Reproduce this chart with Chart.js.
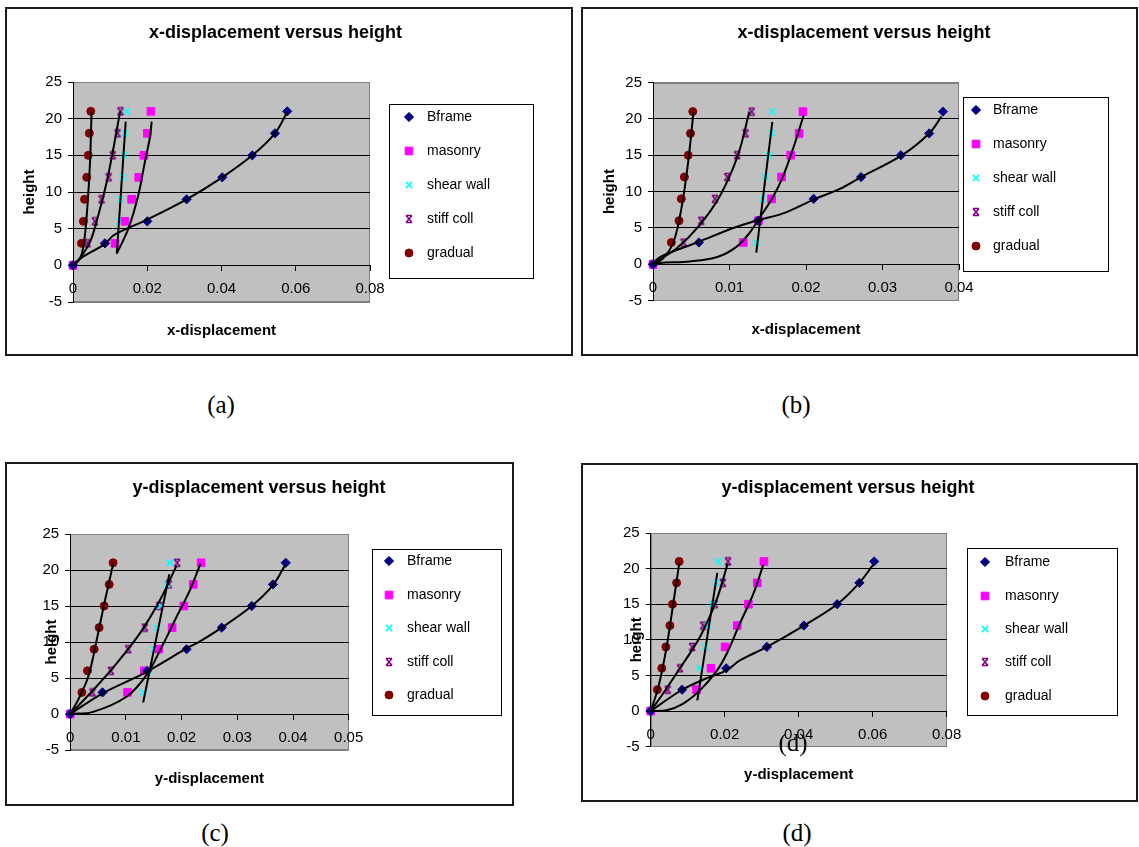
<!DOCTYPE html>
<html><head><meta charset="utf-8">
<script src="https://cdn.jsdelivr.net/npm/chart.js@4.4.1/dist/chart.umd.min.js"></script>
<style>
html,body{margin:0;padding:0;background:#fff;width:1139px;height:847px;overflow:hidden;position:relative;font-family:"Liberation Sans",Arial,sans-serif;}
.frame{position:absolute;box-sizing:border-box;border:2px solid #1a1a1a;background:#fff;}
.frame canvas{position:absolute;left:0;top:0;}
.cap{position:absolute;font-family:"Liberation Serif","Times New Roman",serif;font-size:25px;transform:translate(-50%,-50%);white-space:nowrap;color:#000;}
</style></head><body>
<div id="fa" class="frame"><canvas id="ca"></canvas></div>
<div id="fb" class="frame"><canvas id="cb"></canvas></div>
<div id="fc" class="frame"><canvas id="cc"></canvas></div>
<div id="fd" class="frame"><canvas id="cd"></canvas></div>
<div class="cap" style="left:221px;top:405px">(a)</div>
<div class="cap" style="left:796px;top:405px">(b)</div>
<div class="cap" style="left:215px;top:833px">(c)</div>
<div class="cap" style="left:797px;top:833px">(d)</div>
<div class="cap" style="left:793px;top:743px">(d)</div>
<script>
// ---------- data ----------
const heights = [0, 3, 6, 9, 12, 15, 18, 21];
const seriesNames = ['Bframe', 'masonry', 'shear wall', 'stiff coll', 'gradual'];
const yTickValues = [-5, 0, 5, 10, 15, 20, 25];
const yTickLabels = ['-5', '0', '5', '10', '15', '20', '25'];

// (a) x-displacement
const aXTickValues = [0, 0.02, 0.04, 0.06, 0.08];
const aXTickLabels = ['0', '0.02', '0.04', '0.06', '0.08'];
const aBframe  = [0, 0.0086, 0.0200, 0.0306, 0.0402, 0.0483, 0.0544, 0.0577];
const aMasonry = [0, 0.0113, 0.0140, 0.0158, 0.0177, 0.0191, 0.0200, 0.0210];
const aShear   = [0, 0.0118, 0.0124, 0.0128, 0.0134, 0.0138, 0.0140, 0.0145];
const aStiff   = [0, 0.0039, 0.0059, 0.0077, 0.0096, 0.0107, 0.0120, 0.0128];
const aGradual = [0, 0.0023, 0.0028, 0.0031, 0.0037, 0.0041, 0.0044, 0.0048];
const aBframeTrend  = [[0,0],[0.0019,0.9],[0.0088,3.0],[0.0109,4.1],[0.0198,6.2],[0.0306,9.0],[0.0402,12],[0.0483,15],[0.0544,18],[0.0576,20.8]];
const aMasonryTrend = [[0.0118,1.6],[0.0149,5.0],[0.0176,9.6],[0.0194,14.2],[0.0207,17.4],[0.0212,19.6]];
const aShearTrend   = [[0.0118,1.6],[0.0142,19.6]];
const aStiffTrend   = [[0,0],[0.0019,1.0],[0.0046,3.2],[0.0068,6.8],[0.0091,11.4],[0.0109,16],[0.0127,21]];
const aGradualTrend = [[0,0],[0.0019,0.9],[0.0030,3.2],[0.0039,8.2],[0.0046,14.2],[0.0050,21]];

// (b) x-displacement
const bXTickValues = [0, 0.01, 0.02, 0.03, 0.04];
const bXTickLabels = ['0', '0.01', '0.02', '0.03', '0.04'];
const bBframe  = [0, 0.0060, 0.0137, 0.0210, 0.0272, 0.0324, 0.0361, 0.0379];
const bMasonry = [0, 0.0118, 0.0138, 0.0155, 0.0168, 0.0180, 0.0191, 0.0196];
const bShear   = [0, 0.0135, 0.0139, 0.0143, 0.0147, 0.0152, 0.0155, 0.0156];
const bStiff   = [0, 0.0040, 0.0063, 0.0081, 0.0097, 0.0110, 0.0121, 0.0129];
const bGradual = [0, 0.0024, 0.0034, 0.0037, 0.0041, 0.0046, 0.0049, 0.0052];
const bBframeTrend  = [[0,0],[0.0009,1.0],[0.0060,3.1],[0.0105,5.0],[0.0138,6.1],[0.0170,7.0],[0.0210,8.9],[0.0245,10.4],[0.0272,12.0],[0.0324,14.9],[0.0361,18.0],[0.0377,20.3]];
const bMasonryTrend = [[0,0],[0.0009,0.2],[0.0048,0.4],[0.0084,1.0],[0.0109,2.4],[0.0126,4.3],[0.0140,6.5],[0.0157,9.3],[0.0170,12.1],[0.0184,16.2],[0.0197,20.5]];
const bShearTrend   = [[0.0135,1.6],[0.0156,19.6]];
const bStiffTrend   = [[0,0],[0.0005,0.4],[0.0031,2.2],[0.0061,5.4],[0.0088,9.5],[0.0111,15.0],[0.0126,21]];
const bGradualTrend = [[0,0],[0.0013,0.8],[0.0027,3.1],[0.0038,8.2],[0.0046,14.1],[0.0053,21.0]];

// (c) y-displacement
const cXTickValues = [0, 0.01, 0.02, 0.03, 0.04, 0.05];
const cXTickLabels = ['0', '0.01', '0.02', '0.03', '0.04', '0.05'];
const cBframe  = [0, 0.0058, 0.0138, 0.0209, 0.0272, 0.0326, 0.0364, 0.0387];
const cMasonry = [0, 0.0103, 0.0133, 0.0159, 0.0183, 0.0204, 0.0221, 0.0235];
const cShear   = [0, 0.0131, 0.0140, 0.0150, 0.0156, 0.0162, 0.0174, 0.0179];
const cStiff   = [0, 0.0040, 0.0073, 0.0104, 0.0134, 0.0160, 0.0177, 0.0192];
const cGradual = [0, 0.0021, 0.0031, 0.0043, 0.0052, 0.0061, 0.0070, 0.0077];
const cBframeTrend  = [[0,0],[0.0059,2.9],[0.0131,5.6],[0.0209,9.1],[0.0233,10.1],[0.0272,12],[0.0326,15],[0.0364,17.9],[0.0386,20.7]];
const cMasonryTrend = [[0,0],[0.0041,0.3],[0.0101,2.4],[0.0137,5.4],[0.0161,8.8],[0.0191,13.5],[0.0215,17.2],[0.0234,20.9]];
const cShearTrend   = [[0.0131,1.6],[0.0178,19.4]];
const cStiffTrend   = [[0,0],[0.0041,3.3],[0.0083,7.0],[0.0125,11.2],[0.0161,15.8],[0.0191,20.6]];
const cGradualTrend = [[0,0],[0.00145,2.0],[0.00325,5.2],[0.00476,10.3],[0.00625,15.8],[0.00774,20.9]];

// (d) y-displacement
const dXTickValues = [0, 0.02, 0.04, 0.06, 0.08];
const dXTickLabels = ['0', '0.02', '0.04', '0.06', '0.08'];
const dBframe  = [0, 0.0085, 0.0204, 0.0314, 0.0414, 0.0504, 0.0564, 0.0604];
const dMasonry = [0, 0.0124, 0.0163, 0.0201, 0.0234, 0.0264, 0.0288, 0.0306];
const dShear   = [0, 0.0126, 0.0133, 0.0148, 0.0154, 0.0166, 0.0177, 0.0182];
const dStiff   = [0, 0.0046, 0.0079, 0.0112, 0.0142, 0.0173, 0.0195, 0.0209];
const dGradual = [0, 0.0018, 0.0030, 0.0041, 0.0052, 0.0059, 0.0070, 0.0077];
const dBframeTrend  = [[0,0],[0.0084,2.95],[0.0151,4.6],[0.0205,5.7],[0.0241,7.1],[0.0314,9],[0.0414,12],[0.0504,15],[0.0564,18],[0.0602,20.6]];
const dMasonryTrend = [[0,0],[0.0043,0.1],[0.0088,1.05],[0.0133,2.9],[0.0178,5.6],[0.0205,8.0],[0.0241,12.3],[0.0277,16.4],[0.0304,20.5]];
const dShearTrend   = [[0.0126,1.5],[0.0180,19.4]];
const dStiffTrend   = [[0,0],[0.0034,2.5],[0.0079,6.0],[0.0133,10.4],[0.0178,15.6],[0.0208,20.7]];
const dGradualTrend = [[0,0],[0.0021,3.4],[0.0043,9.0],[0.0061,15.1],[0.0077,20.7]];

// ---------- styling ----------
const FONT = '"Liberation Sans", Arial, sans-serif';
Chart.defaults.font.family = FONT;
Chart.defaults.color = '#000';

function makeStiffMarker() {
  const c = document.createElement('canvas');
  c.width = 10; c.height = 10;
  const g = c.getContext('2d');
  g.strokeStyle = '#800080'; g.lineWidth = 1.5;
  g.beginPath();
  g.moveTo(2, 1.5); g.lineTo(8, 8.5);
  g.moveTo(8, 1.5); g.lineTo(2, 8.5);
  g.moveTo(2, 1.5); g.lineTo(8, 1.5);
  g.moveTo(2, 8.5); g.lineTo(8, 8.5);
  g.stroke();
  return c;
}
const stiffMarker = makeStiffMarker();
const markerStyles = [
  {pointStyle: 'rectRot', color: '#000080', radius: 4.6, bw: 1},
  {pointStyle: 'rect', color: '#FF00FF', radius: 5.4, bw: 1},
  {pointStyle: 'crossRot', color: '#00FFFF', radius: 4.4, bw: 1.6},
  {pointStyle: stiffMarker, color: '#800080', radius: 4.5, bw: 1},
  {pointStyle: 'circle', color: '#800000', radius: 4, bw: 1}
];

const plotBg = {
  id: 'plotBg',
  beforeDraw(chart) {
    const {ctx, chartArea: a} = chart;
    ctx.save();
    ctx.fillStyle = '#C0C0C0';
    ctx.fillRect(a.left, a.top, a.right - a.left, a.bottom - a.top);
    ctx.strokeStyle = '#808080'; ctx.lineWidth = 1;
    ctx.strokeRect(Math.round(a.left) + 0.5, Math.round(a.top) + 0.5, Math.round(a.right - a.left) - 1, Math.round(a.bottom - a.top) - 1);
    ctx.restore();
  }
};

const deco = {
  id: 'deco',
  afterDraw(chart, args, o) {
    const ctx = chart.ctx;
    ctx.save();
    ctx.fillStyle = '#000';
    ctx.font = 'bold 18px ' + FONT;
    ctx.textAlign = 'center'; ctx.textBaseline = 'middle';
    ctx.fillText(o.title, o.titleX, o.titleY);
    const [bx, by, bw, bh] = o.box;
    ctx.fillStyle = '#fff'; ctx.fillRect(bx, by, bw, bh);
    ctx.strokeStyle = '#000'; ctx.lineWidth = 1;
    ctx.strokeRect(Math.round(bx) + 0.5, Math.round(by) + 0.5, Math.round(bw) - 1, Math.round(bh) - 1);
    ctx.font = '14px ' + FONT; ctx.textAlign = 'left';
    const pts = chart.data.datasets.filter(d => !d.isTrend);
    pts.forEach((d, i) => {
      const y = o.rows[i];
      ctx.fillStyle = d.pointBackgroundColor; ctx.strokeStyle = d.pointBorderColor; ctx.lineWidth = d.pointBorderWidth;
      if (Chart.helpers && Chart.helpers.drawPoint) {
        Chart.helpers.drawPoint(ctx, {pointStyle: d.pointStyle, radius: d.pointRadius, borderWidth: d.pointBorderWidth, rotation: 0}, o.markerX, y);
      }
      ctx.fillStyle = '#000';
      ctx.fillText(d.label, o.textX, y);
    });
    ctx.restore();
  }
};

function toPts(xs) { return heights.map((h, i) => ({x: xs[i], y: h})); }
function toLine(arr) { return arr.map(p => ({x: p[0], y: p[1]})); }

function buildChart(id, spec, xsList, trendList, xMax, xTickValues, xTickLabels) {
  const cv = document.getElementById(id);
  const fr = cv.parentElement;
  const [fx0, fy0, fw, fh] = spec.frame;
  fr.style.left = fx0 + 'px'; fr.style.top = fy0 + 'px';
  fr.style.width = fw + 'px'; fr.style.height = fh + 'px';
  const cx = fx0 + 2, cy = fy0 + 2, cw = fw - 4, ch = fh - 4;
  cv.width = cw; cv.height = ch; cv.style.width = cw + 'px'; cv.style.height = ch + 'px';
  const [L, T, R, B] = spec.area;
  const lx = L - cx, rx = R - cx, ty = T - cy, by = B - cy;
  const pix0 = ty + (by - ty) * 25 / 30;
  const tickLen = 5, xTickPad = 10;
  const datasets = [];
  trendList.forEach(tr => datasets.push({
    isTrend: true, label: 'trend', data: toLine(tr), showLine: true,
    borderColor: '#000', borderWidth: 2, pointRadius: 0, tension: 0.35, order: 0, clip: false
  }));
  xsList.forEach((xs, i) => {
    const m = markerStyles[i];
    datasets.push({
      label: seriesNames[i], data: toPts(xs), showLine: false,
      pointStyle: m.pointStyle, pointRadius: m.radius, pointHoverRadius: m.radius,
      pointBackgroundColor: m.color, pointBorderColor: m.color, pointBorderWidth: m.bw,
      order: 1, clip: false
    });
  });
  const loc = {
    title: spec.title, titleX: spec.titleXY[0] - cx, titleY: spec.titleXY[1] - cy,
    box: [spec.legend.box[0] - cx, spec.legend.box[1] - cy, spec.legend.box[2], spec.legend.box[3]],
    markerX: spec.legend.markerX - cx, textX: spec.legend.textX - cx,
    rows: spec.legend.rows.map(r => r - cy)
  };
  return new Chart(cv, {
    type: 'scatter',
    data: {datasets},
    plugins: [plotBg, deco],
    options: {
      responsive: false, animation: false, events: [],
      layout: {padding: {left: 0, top: ty, right: cw - rx, bottom: ch - by}},
      plugins: {legend: {display: false}, title: {display: false}, tooltip: {enabled: false}, deco: loc},
      scales: {
        x: {
          type: 'linear', position: {y: 0}, min: 0, max: xMax,
          afterBuildTicks: s => { s.ticks = xTickValues.map(v => ({value: v})); },
          ticks: {autoSkip: false, maxRotation: 0, padding: xTickPad, font: {size: 15}, color: '#000',
                  callback: (v, i) => xTickLabels[i]},
          grid: {drawOnChartArea: false, drawTicks: true, tickLength: tickLen, color: '#000'},
          border: {color: '#000', width: 1},
          title: {display: true, text: spec.xTitle, font: {size: 15, weight: 'bold'}, color: '#000',
                  padding: {top: spec.xTitleY - cy - (pix0 + tickLen + xTickPad + 18 + 9) - 8, bottom: 0}}
        },
        y: {
          type: 'linear', min: -5, max: 25,
          afterBuildTicks: s => { s.ticks = yTickValues.map(v => ({value: v})); },
          afterFit: s => { s.width = lx; },
          ticks: {autoSkip: false, padding: 6, font: {size: 15}, color: '#000',
                  callback: (v, i) => yTickLabels[i]},
          grid: {
            color: c => (c.tick && (c.tick.value === 25 || c.tick.value === -5)) ? '#808080' : '#000',
            tickColor: '#000', tickLength: tickLen, lineWidth: 1
          },
          border: {color: '#000', width: 1},
          title: {display: true, text: 'height', font: {size: 15, weight: 'bold'}, color: '#000',
                  padding: {top: spec.yTitleX - cx - 9, bottom: 0}}
        }
      }
    }
  });
}

// ---------- layout specs (page coordinates) ----------
buildChart('ca', {
  frame: [5, 7, 568, 349], area: [73, 82, 370, 302],
  title: 'x-displacement versus height', titleXY: [275.5, 33],
  xTitle: 'x-displacement', xTitleY: 329, yTitleX: 30,
  legend: {box: [389, 104, 145, 175], markerX: 409, textX: 427, rows: [117, 151, 185, 219, 253]}
}, [aBframe, aMasonry, aShear, aStiff, aGradual],
   [aBframeTrend, aMasonryTrend, aShearTrend, aStiffTrend, aGradualTrend], 0.08, aXTickValues, aXTickLabels);

buildChart('cb', {
  frame: [581, 7, 557, 349], area: [653, 82.5, 959, 300.7],
  title: 'x-displacement versus height', titleXY: [864, 33],
  xTitle: 'x-displacement', xTitleY: 328, yTitleX: 610,
  legend: {box: [963, 97, 146, 175], markerX: 976, textX: 993, rows: [110, 144, 178, 212, 246]}
}, [bBframe, bMasonry, bShear, bStiff, bGradual],
   [bBframeTrend, bMasonryTrend, bShearTrend, bStiffTrend, bGradualTrend], 0.04, bXTickValues, bXTickLabels);

buildChart('cc', {
  frame: [5, 462, 509, 344], area: [70.2, 534, 348.7, 750],
  title: 'y-displacement versus height', titleXY: [259, 488],
  xTitle: 'y-displacement', xTitleY: 777, yTitleX: 52,
  legend: {box: [372, 549, 130, 167], markerX: 389, textX: 407, rows: [561, 595, 628, 662, 695]}
}, [cBframe, cMasonry, cShear, cStiff, cGradual],
   [cBframeTrend, cMasonryTrend, cShearTrend, cStiffTrend, cGradualTrend], 0.05, cXTickValues, cXTickLabels);

buildChart('cd', {
  frame: [581, 463, 557, 339], area: [650.7, 533, 946.7, 746.6],
  title: 'y-displacement versus height', titleXY: [848, 488],
  xTitle: 'y-displacement', xTitleY: 773, yTitleX: 637,
  legend: {box: [967, 548, 151, 168], markerX: 985, textX: 1005, rows: [562, 596, 629, 662, 696]}
}, [dBframe, dMasonry, dShear, dStiff, dGradual],
   [dBframeTrend, dMasonryTrend, dShearTrend, dStiffTrend, dGradualTrend], 0.08, dXTickValues, dXTickLabels);
</script>
</body></html>
